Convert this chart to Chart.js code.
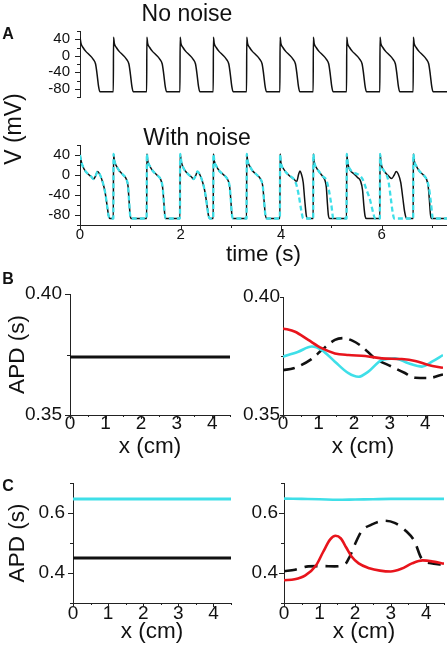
<!DOCTYPE html>
<html><head><meta charset="utf-8">
<script src="https://cdn.jsdelivr.net/npm/chart.js@4.4.1/dist/chart.umd.min.js"></script>
<style>
html,body{margin:0;padding:0;background:#fff;width:447px;height:656px;overflow:hidden;}
#wrap{position:relative;width:447px;height:656px;font-family:"Liberation Sans",Arial,sans-serif;color:#111;}
canvas{position:absolute;}
.lbl{position:absolute;transform:translate(-50%,-50%);white-space:nowrap;line-height:1;}
.big{font-size:23px;}
.let{font-size:16px;font-weight:bold;}
</style></head><body><div id="wrap">
<canvas id="aTop"></canvas><canvas id="aBot"></canvas>
<canvas id="bL"></canvas><canvas id="bR"></canvas>
<canvas id="cL"></canvas><canvas id="cR"></canvas>
<div class="lbl big" style="left:187px;top:13px;">No noise</div>
<div class="lbl big" style="left:197px;top:137px;">With noise</div>
<div class="lbl big" style="left:13px;top:129px;transform:translate(-50%,-50%) rotate(-90deg);">V (mV)</div>
<div class="lbl let" style="left:8px;top:34px;">A</div>
<div class="lbl let" style="left:8px;top:279px;">B</div>
<div class="lbl let" style="left:8px;top:486px;">C</div>
</div>
<script>
// ---------- DATA ----------
// Panel A, no noise: [time (s), V (mV)]
const cleanTrace = [
 [0,45],[0.02,30],[0.06,20],[0.12,10],[0.18,3],[0.26,-8],[0.31,-20],[0.34,-45],[0.37,-75],[0.395,-87],
 [0.663,-87],[0.667,45],[0.683,30],[0.723,20],[0.783,10],[0.843,3],[0.923,-8],[0.973,-20],[1.003,-45],[1.033,-75],[1.058,-87],
 [1.326,-87],[1.330,45],[1.346,30],[1.386,20],[1.446,10],[1.506,3],[1.586,-8],[1.636,-20],[1.666,-45],[1.696,-75],[1.721,-87],
 [1.988,-87],[1.992,45],[2.008,30],[2.048,20],[2.108,10],[2.168,3],[2.248,-8],[2.298,-20],[2.328,-45],[2.358,-75],[2.383,-87],
 [2.650,-87],[2.654,45],[2.670,30],[2.710,20],[2.770,10],[2.830,3],[2.910,-8],[2.960,-20],[2.990,-45],[3.020,-75],[3.045,-87],
 [3.313,-87],[3.317,45],[3.333,30],[3.373,20],[3.433,10],[3.493,3],[3.573,-8],[3.623,-20],[3.653,-45],[3.683,-75],[3.708,-87],
 [3.976,-87],[3.980,45],[3.996,30],[4.036,20],[4.096,10],[4.156,3],[4.236,-8],[4.286,-20],[4.316,-45],[4.346,-75],[4.371,-87],
 [4.638,-87],[4.642,45],[4.658,30],[4.698,20],[4.758,10],[4.818,3],[4.898,-8],[4.948,-20],[4.978,-45],[5.008,-75],[5.033,-87],
 [5.302,-87],[5.306,45],[5.322,30],[5.362,20],[5.422,10],[5.482,3],[5.562,-8],[5.612,-20],[5.642,-45],[5.672,-75],[5.697,-87],
 [5.964,-87],[5.968,45],[5.984,30],[6.024,20],[6.084,10],[6.144,3],[6.224,-8],[6.274,-20],[6.304,-45],[6.334,-75],[6.359,-87],
 [6.627,-87],[6.631,45],[6.647,30],[6.687,20],[6.747,10],[6.807,3],[6.887,-8],[6.937,-20],[6.967,-45],[6.997,-75],[7.022,-87],
 [7.3,-87]
];
// Panel A, with noise: beats 1-6 (black and cyan coincide)
const noisyShared = [
 [0,40],[0.03,25],[0.08,12],[0.15,3],[0.22,-3],[0.27,-8],[0.31,-2],[0.35,7],[0.39,2],[0.45,-14],[0.50,-35],[0.54,-62],[0.57,-82],[0.60,-87],
 [0.663,-87],[0.667,42],[0.685,28],[0.725,18],[0.785,8],[0.86,0],[0.92,-8],[0.955,-22],[0.975,-50],[0.995,-78],[1.013,-87],
 [1.326,-87],[1.330,42],[1.348,28],[1.388,18],[1.448,8],[1.53,0],[1.60,-8],[1.64,-22],[1.665,-50],[1.685,-78],[1.706,-87],
 [1.988,-87],[1.992,42],[2.018,25],[2.068,12],[2.138,3],[2.208,-3],[2.258,-8],[2.298,-2],[2.338,7],[2.378,2],[2.438,-14],[2.488,-35],[2.528,-62],[2.558,-82],[2.588,-87],
 [2.650,-87],[2.654,42],[2.672,28],[2.712,18],[2.772,8],[2.86,0],[2.93,-8],[2.975,-22],[3.0,-50],[3.02,-78],[3.05,-87],
 [3.313,-87],[3.317,42],[3.335,28],[3.375,18],[3.435,8],[3.52,0],[3.59,-8],[3.635,-22],[3.66,-50],[3.685,-78],[3.713,-87]
];
// beats 7-11, black (solid)
const blackLate = [
 [3.976,-87],[3.980,42],[3.996,25],[4.05,12],[4.15,0],[4.25,-8],[4.31,-13],[4.35,2],[4.375,8],[4.40,3],[4.44,-15],[4.47,-50],[4.50,-80],[4.52,-87],
 [4.638,-87],[4.642,42],[4.66,25],[4.70,15],[4.76,6],[4.83,-3],[4.87,-10],[4.90,-25],[4.92,-55],[4.94,-80],[4.965,-87],
 [5.302,-87],[5.306,42],[5.324,25],[5.37,10],[5.44,3],[5.52,-5],[5.58,-12],[5.62,-30],[5.645,-60],[5.67,-82],[5.70,-87],
 [5.964,-87],[5.968,42],[5.99,22],[6.05,8],[6.12,0],[6.20,-7],[6.25,0],[6.29,7],[6.33,2],[6.38,-15],[6.42,-45],[6.46,-75],[6.50,-87],
 [6.627,-87],[6.631,42],[6.649,28],[6.689,18],[6.749,8],[6.83,0],[6.89,-8],[6.925,-22],[6.95,-50],[6.97,-78],[6.99,-87],[7.3,-87]
];
// beats 7-11, cyan (dashed)
const cyanLate = [
 [3.976,-87],[3.980,42],[3.996,25],[4.05,12],[4.15,0],[4.25,-8],[4.30,-18],[4.35,-40],[4.40,-70],[4.44,-87],
 [4.638,-87],[4.642,42],[4.66,25],[4.70,15],[4.76,6],[4.83,-3],[4.90,-10],[4.95,-30],[5.00,-60],[5.04,-87],
 [5.302,-87],[5.306,42],[5.324,25],[5.37,12],[5.45,5],[5.55,0],[5.62,-8],[5.70,-30],[5.77,-50],[5.83,-75],[5.87,-87],
 [5.964,-87],[5.968,42],[5.99,22],[6.05,8],[6.10,0],[6.14,-15],[6.18,-45],[6.22,-75],[6.25,-87],
 [6.627,-87],[6.631,42],[6.649,28],[6.689,18],[6.749,8],[6.83,0],[6.89,-8],[6.94,-25],[6.98,-55],[7.02,-87],[7.3,-87]
];
// Panel B (APD, s vs x, cm)
const bLeftX = [0, 4.5];
const bLeftBlack = [0.374, 0.374];
const bRedX = [0, 0.34, 0.71, 1.09, 1.46, 1.84, 2.31, 2.78, 3.34, 3.72, 4.09, 4.5];
const bRedY = [0.3867, 0.3853, 0.3818, 0.3783, 0.3761, 0.3754, 0.375, 0.374, 0.3737, 0.3729, 0.3712, 0.370];
const bCyanX = [0, 0.43, 0.81, 1.09, 1.46, 1.84, 2.12, 2.40, 2.78, 3.15, 3.53, 3.91, 4.19, 4.5];
const bCyanY = [0.3747, 0.3768, 0.379, 0.3775, 0.3726, 0.3677, 0.3662, 0.3684, 0.3733, 0.374, 0.3719, 0.3705, 0.3726, 0.3754];
const bBlackX = [0, 0.3, 0.8, 1.09, 1.46, 1.70, 1.95, 2.22, 2.59, 3.06, 3.4, 3.72, 4.1, 4.5];
const bBlackY = [0.369, 0.3698, 0.3737, 0.3775, 0.3818, 0.3826, 0.3815, 0.379, 0.374, 0.3705, 0.368, 0.3658, 0.3657, 0.3672];
// Panel C
const cLeftX = [0, 4.5];
const cLeftCyan = [0.647, 0.647];
const cLeftBlack = [0.45, 0.45];
const cCyanX = [0, 0.5, 1, 1.5, 2, 2.5, 3, 3.5, 4, 4.5];
const cCyanY = [0.648, 0.647, 0.646, 0.644, 0.645, 0.646, 0.647, 0.647, 0.647, 0.647];
const cRedX = [0, 0.3, 0.6, 0.9, 1.1, 1.3, 1.45, 1.6, 1.75, 1.9, 2.1, 2.4, 2.7, 3.0, 3.3, 3.6, 3.9, 4.2, 4.5];
const cRedY = [0.376, 0.379, 0.392, 0.425, 0.47, 0.512, 0.524, 0.515, 0.485, 0.455, 0.432, 0.416, 0.408, 0.405, 0.414, 0.432, 0.442, 0.438, 0.431];
const cBlackX = [0, 0.31, 0.68, 1.06, 1.43, 1.71, 1.85, 1.99, 2.18, 2.46, 2.83, 3.11, 3.44, 3.67, 3.86, 4.1, 4.5];
const cBlackY = [0.406, 0.411, 0.422, 0.423, 0.422, 0.428, 0.455, 0.494, 0.539, 0.561, 0.574, 0.567, 0.539, 0.506, 0.45, 0.433, 0.428];
// Tick values
const aYMajor = [-80, -40, 0, 40];
const aYMinor = [-100, -60, -20, 20, 60];
const aXMajor = [0, 2, 4, 6];
const aXMinor = [1, 3, 5, 7];
const cmMajor = [0, 1, 2, 3, 4];
const cmMinor = [0.5, 1.5, 2.5, 3.5, 4.5];
const bYMajor = [0.35, 0.40];
const bYMinor = [0.375];
const cYMajor = [0.4, 0.6];
const cYMinor = [0.3, 0.5, 0.7];

// ---------- DRAWING ----------
const FONT = '"Liberation Sans", Arial, sans-serif';
const CYAN = '#3fdfe8', RED = '#e8141c', BLK = '#111111', AX = '#222222', TXT = '#111111';
const pairs = a => a.map(p => ({x: p[0], y: p[1]}));
const xy = (xs, ys) => xs.map((x, i) => ({x: x, y: ys[i]}));

const tickMarks = {
  id: 'tickMarks',
  afterDraw(chart, args, opts) {
    const ctx = chart.ctx;
    ctx.save();
    ctx.strokeStyle = AX; ctx.lineWidth = 1;
    (opts.marks || []).forEach(m => {
      const sc = chart.scales[m.axis];
      m.values.forEach(v => {
        const p = Math.round(sc.getPixelForValue(v)) + 0.5;
        ctx.beginPath();
        if (m.axis === 'y') { const x0 = sc.right; ctx.moveTo(x0, p); ctx.lineTo(x0 - m.len, p); }
        else { const y0 = sc.top; ctx.moveTo(p, y0); ctx.lineTo(p, y0 + m.len); }
        ctx.stroke();
      });
    });
    ctx.restore();
  }
};

function line(data, color, width, dash) {
  return {data: data, borderColor: color, borderWidth: width, borderDash: dash || [],
    pointRadius: 0, fill: false, cubicInterpolationMode: 'monotone', borderJoinStyle: 'round'};
}

function makeChart(id, b, c) {
  const cv = document.getElementById(id);
  cv.width = b.cw; cv.height = b.ch;
  cv.style.left = b.cl + 'px'; cv.style.top = b.ct + 'px';
  cv.style.width = b.cw + 'px'; cv.style.height = b.ch + 'px';
  const yW = b.left - b.cl;
  const xH = b.ct + b.ch - b.bottom;
  const showX = c.showX !== false;
  new Chart(cv, {
    type: 'line',
    data: {datasets: c.datasets},
    options: {
      responsive: false, animation: false, devicePixelRatio: 1,
      layout: {padding: {left: 0, top: b.top - b.ct, right: b.cl + b.cw - b.right, bottom: showX ? 0 : (b.ct + b.ch - b.bottom)}},
      plugins: {legend: {display: false}, tooltip: {enabled: false}, tickMarks: {marks: c.marks}},
      scales: {
        x: {type: 'linear', min: c.xMin, max: c.xMax, display: showX,
          afterBuildTicks: s => { s.ticks = c.xMajor.map(v => ({value: v})); },
          afterFit: s => { s.height = xH; },
          border: {display: true, color: AX, width: 1},
          grid: {display: true, drawOnChartArea: false, drawTicks: false},
          ticks: {padding: c.xPad, color: TXT, maxRotation: 0, autoSkip: false,
            font: {family: FONT, size: c.xFont, lineHeight: 0.8}, callback: v => String(v)},
          title: {display: !!c.xTitle, text: c.xTitle || '', color: TXT,
            font: {family: FONT, size: 22.5}, padding: {top: 0, bottom: c.xTitlePad || 0}}
        },
        y: {type: 'linear', min: c.yMin, max: c.yMax,
          afterBuildTicks: s => { s.ticks = c.yMajor.map(v => ({value: v})); },
          afterFit: s => { s.width = yW; },
          border: {display: true, color: AX, width: 1},
          grid: {display: true, drawOnChartArea: false, drawTicks: false},
          ticks: {padding: c.yPad, color: TXT, font: {family: FONT, size: c.yFont}, callback: c.yFmt},
          title: {display: !!c.yTitle, text: c.yTitle || '', color: TXT,
            font: {family: FONT, size: 22.5}, padding: {top: 4, bottom: 0}}
        }
      }
    },
    plugins: [tickMarks]
  });
}

const fmtInt = v => String(v);
const fmt2 = v => v.toFixed(2);
const fmt1 = v => v.toFixed(1);

makeChart('aTop', {cl: 0, ct: 0, cw: 447, ch: 125, left: 80, top: 31, right: 447, bottom: 111}, {
  showX: false, xMin: 0, xMax: 7.3, xMajor: aXMajor, xFont: 15, xPad: 2,
  yMin: -100, yMax: 60, yMajor: aYMajor, yFont: 15, yPad: 10, yFmt: fmtInt,
  marks: [{axis: 'y', values: aYMajor, len: 5}, {axis: 'y', values: aYMinor, len: 3}],
  datasets: [line(pairs(cleanTrace), BLK, 1.5)]
});

makeChart('aBot', {cl: 0, ct: 125, cw: 447, ch: 145, left: 80, top: 145, right: 447, bottom: 225}, {
  xMin: 0, xMax: 7.3, xMajor: aXMajor, xFont: 15, xPad: 4, xTitle: 'time (s)', xTitlePad: 1.5,
  yMin: -100, yMax: 60, yMajor: aYMajor, yFont: 15, yPad: 10, yFmt: fmtInt,
  marks: [{axis: 'y', values: aYMajor, len: 5}, {axis: 'y', values: aYMinor, len: 3},
          {axis: 'x', values: aXMajor, len: 5}, {axis: 'x', values: aXMinor, len: 3}],
  datasets: [
    line(pairs(noisyShared.concat(cyanLate)), CYAN, 2.3, [5, 3]),
    line(pairs(noisyShared.concat(blackLate)), BLK, 1.5)
  ]
});

makeChart('bL', {cl: 0, ct: 272, cw: 243, ch: 189, left: 70, top: 294, right: 230, bottom: 415}, {
  xMin: 0, xMax: 4.5, xMajor: cmMajor, xFont: 19, xPad: 1, xTitle: 'x (cm)', xTitlePad: 0.5,
  yMin: 0.35, yMax: 0.40, yMajor: bYMajor, yFont: 19, yPad: 8, yFmt: fmt2, yTitle: 'APD (s)',
  marks: [{axis: 'y', values: bYMajor, len: 5}, {axis: 'y', values: bYMinor, len: 3},
          {axis: 'x', values: cmMajor, len: 4}, {axis: 'x', values: cmMinor, len: 2}],
  datasets: [line(xy(bLeftX, bLeftBlack), BLK, 3)]
});

makeChart('bR', {cl: 243, ct: 272, cw: 204, ch: 189, left: 283, top: 297, right: 443, bottom: 415}, {
  xMin: 0, xMax: 4.5, xMajor: cmMajor, xFont: 19, xPad: 1, xTitle: 'x (cm)', xTitlePad: 0.5,
  yMin: 0.35, yMax: 0.40, yMajor: bYMajor, yFont: 19, yPad: 3, yFmt: fmt2,
  marks: [{axis: 'y', values: bYMajor, len: 3}, {axis: 'y', values: bYMinor, len: 2},
          {axis: 'x', values: cmMajor, len: 4}, {axis: 'x', values: cmMinor, len: 2}],
  datasets: [
    line(xy(bRedX, bRedY), RED, 2.6),
    line(xy(bCyanX, bCyanY), CYAN, 2.6),
    line(xy(bBlackX, bBlackY), BLK, 2.6, [12, 7])
  ]
});

makeChart('cL', {cl: 0, ct: 462, cw: 243, ch: 194, left: 73, top: 483, right: 231, bottom: 603}, {
  xMin: 0, xMax: 4.5, xMajor: cmMajor, xFont: 19, xPad: 2.7, xTitle: 'x (cm)', xTitlePad: 10.5,
  yMin: 0.3, yMax: 0.7, yMajor: cYMajor, yFont: 19, yPad: 8, yFmt: fmt1, yTitle: 'APD (s)',
  marks: [{axis: 'y', values: cYMajor, len: 5}, {axis: 'y', values: cYMinor, len: 3},
          {axis: 'x', values: cmMajor, len: 4}, {axis: 'x', values: cmMinor, len: 2}],
  datasets: [line(xy(cLeftX, cLeftCyan), CYAN, 3), line(xy(cLeftX, cLeftBlack), BLK, 3)]
});

makeChart('cR', {cl: 243, ct: 462, cw: 204, ch: 194, left: 284, top: 483, right: 444, bottom: 603}, {
  xMin: 0, xMax: 4.5, xMajor: cmMajor, xFont: 19, xPad: 2.7, xTitle: 'x (cm)', xTitlePad: 10.5,
  yMin: 0.3, yMax: 0.7, yMajor: cYMajor, yFont: 19, yPad: 6, yFmt: fmt1,
  marks: [{axis: 'y', values: cYMajor, len: 5}, {axis: 'y', values: cYMinor, len: 3},
          {axis: 'x', values: cmMajor, len: 4}, {axis: 'x', values: cmMinor, len: 2}],
  datasets: [
    line(xy(cRedX, cRedY), RED, 2.6),
    line(xy(cCyanX, cCyanY), CYAN, 2.6),
    line(xy(cBlackX, cBlackY), BLK, 2.6, [13, 8])
  ]
});
</script></body></html>
